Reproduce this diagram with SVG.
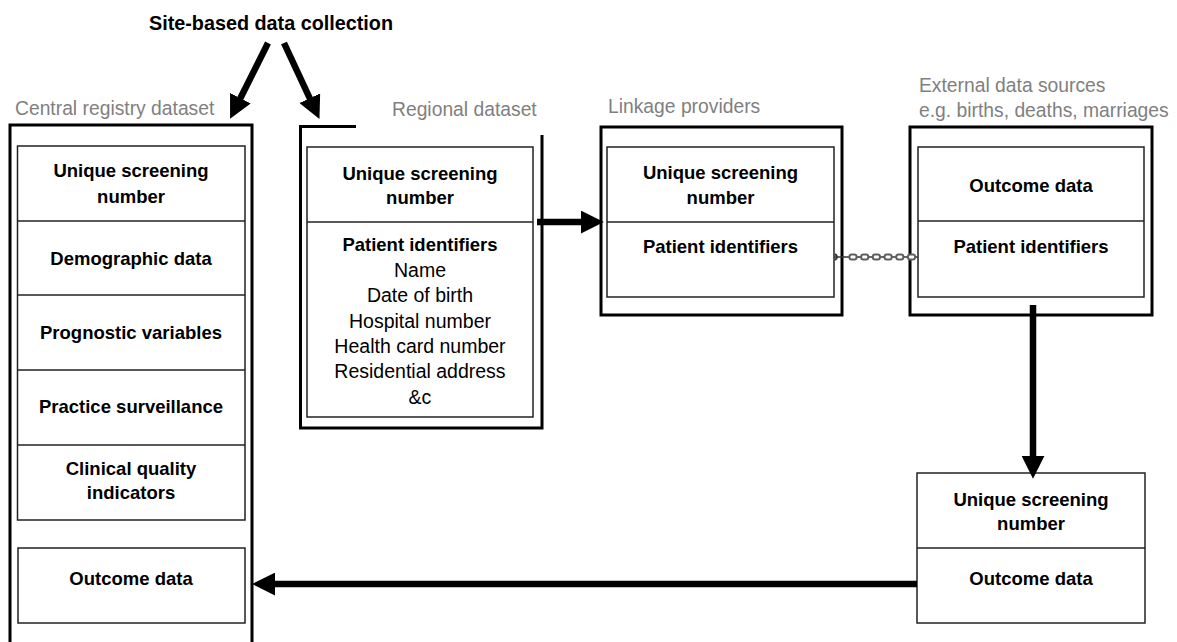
<svg xmlns="http://www.w3.org/2000/svg" width="1177" height="642" viewBox="0 0 1177 642">
<style>
  .frame{fill:none;stroke:#000;stroke-width:3}
  .inner{fill:#fff;stroke:#222;stroke-width:1.5}
  .div{stroke:#222;stroke-width:1.5}
  .b{font-family:"Liberation Sans",Arial,sans-serif;font-weight:bold;font-size:18.5px;fill:#000;text-anchor:middle}
  .r{font-family:"Liberation Sans",Arial,sans-serif;font-size:19.5px;fill:#000;text-anchor:middle}
  .g{font-family:"Liberation Sans",Arial,sans-serif;font-size:19.3px;fill:#808080}
  .title{font-family:"Liberation Sans",Arial,sans-serif;font-weight:bold;font-size:19.8px;fill:#000;text-anchor:middle}
  .arrow{fill:none;stroke:#000;stroke-width:6.5;marker-end:url(#ah)}
  .link{fill:#fff;stroke:#5e5e5e;stroke-width:2}
</style>
<defs>
  <marker id="ah" viewBox="0 0 22 22" markerWidth="23" markerHeight="23" refX="4" refY="11" orient="auto" markerUnits="userSpaceOnUse">
    <path d="M0,0 L22,11 L0,22 z" fill="#000"/>
  </marker>
</defs>
<rect width="1177" height="642" fill="#fff"/>

<text class="title" x="271" y="30">Site-based data collection</text>

<g id="central">
  <text class="g" x="15" y="115">Central registry dataset</text>
  <path class="frame" d="M10,650 V125 H252 V650"/>
  <rect class="inner" x="17.5" y="146" width="227.5" height="374"/>
  <line class="div" x1="17.5" y1="221" x2="245" y2="221"/>
  <line class="div" x1="17.5" y1="295" x2="245" y2="295"/>
  <line class="div" x1="17.5" y1="370" x2="245" y2="370"/>
  <line class="div" x1="17.5" y1="445" x2="245" y2="445"/>
  <rect class="inner" x="18" y="548" width="227" height="75"/>
  <text class="b" x="131" y="177">Unique screening</text>
  <text class="b" x="131" y="203">number</text>
  <text class="b" x="131" y="265">Demographic data</text>
  <text class="b" x="131" y="339">Prognostic variables</text>
  <text class="b" x="131" y="413">Practice surveillance</text>
  <text class="b" x="131" y="475">Clinical quality</text>
  <text class="b" x="131" y="499">indicators</text>
  <text class="b" x="131" y="585">Outcome data</text>
</g>

<g id="regional">
  <text class="g" x="392" y="116">Regional dataset</text>
  <path class="frame" d="M356,126.5 H300.5 V428 H542 V135"/>
  <rect class="inner" x="307" y="147" width="226" height="270"/>
  <line class="div" x1="307" y1="222" x2="533" y2="222"/>
  <text class="b" x="420" y="180">Unique screening</text>
  <text class="b" x="420" y="204">number</text>
  <text class="b" x="420" y="251">Patient identifiers</text>
  <text class="r" x="420" y="277">Name</text>
  <text class="r" x="420" y="302">Date of birth</text>
  <text class="r" x="420" y="328">Hospital number</text>
  <text class="r" x="420" y="353">Health card number</text>
  <text class="r" x="420" y="378">Residential address</text>
  <text class="r" x="420" y="404">&amp;c</text>
</g>

<g id="linkage">
  <text class="g" x="608" y="113">Linkage providers</text>
  <rect class="frame" x="601" y="127" width="241" height="188"/>
  <rect class="inner" x="607" y="147" width="227" height="150"/>
  <line class="div" x1="607" y1="222" x2="834" y2="222"/>
  <text class="b" x="720.5" y="179">Unique screening</text>
  <text class="b" x="720.5" y="204">number</text>
  <text class="b" x="720.5" y="253">Patient identifiers</text>
</g>

<g id="external">
  <text class="g" x="919" y="92">External data sources</text>
  <text class="g" x="919" y="117">e.g. births, deaths, marriages</text>
  <rect class="frame" x="910" y="127" width="242" height="188"/>
  <rect class="inner" x="918" y="147" width="226" height="150"/>
  <line class="div" x1="918" y1="221" x2="1144" y2="221"/>
  <text class="b" x="1031" y="192">Outcome data</text>
  <text class="b" x="1031" y="253">Patient identifiers</text>
</g>

<g id="linked">
  <rect class="inner" x="917" y="473" width="228" height="150"/>
  <line class="div" x1="917" y1="548" x2="1145" y2="548"/>
  <text class="b" x="1031" y="506">Unique screening</text>
  <text class="b" x="1031" y="530">number</text>
  <text class="b" x="1031" y="585">Outcome data</text>
</g>

<g id="connectors">
  <line class="arrow" x1="268" y1="43" x2="238.5" y2="102"/>
  <line class="arrow" x1="284" y1="43" x2="311.5" y2="102"/>
  <line class="arrow" x1="537" y1="222" x2="585" y2="222"/>
  <line class="arrow" x1="1033" y1="305" x2="1033" y2="460"/>
  <line class="arrow" x1="917" y1="584" x2="271" y2="584"/>
  <g id="chain">
    <line x1="834" y1="257" x2="918" y2="257" stroke="#333" stroke-width="1.6"/>
    <path d="M835,254 Q839,257 835,260" fill="none" stroke="#333" stroke-width="2"/>
    <rect class="link" x="849.5" y="254.5" width="7" height="5" rx="2"/>
    <rect class="link" x="861.2" y="254.5" width="7" height="5" rx="2"/>
    <rect class="link" x="872.9" y="254.5" width="7" height="5" rx="2"/>
    <rect class="link" x="884.6" y="254.5" width="7" height="5" rx="2"/>
    <rect class="link" x="896.3" y="254.5" width="7" height="5" rx="2"/>
    <rect class="link" x="908" y="254.5" width="7" height="5" rx="2"/>
  </g>
</g>
</svg>
